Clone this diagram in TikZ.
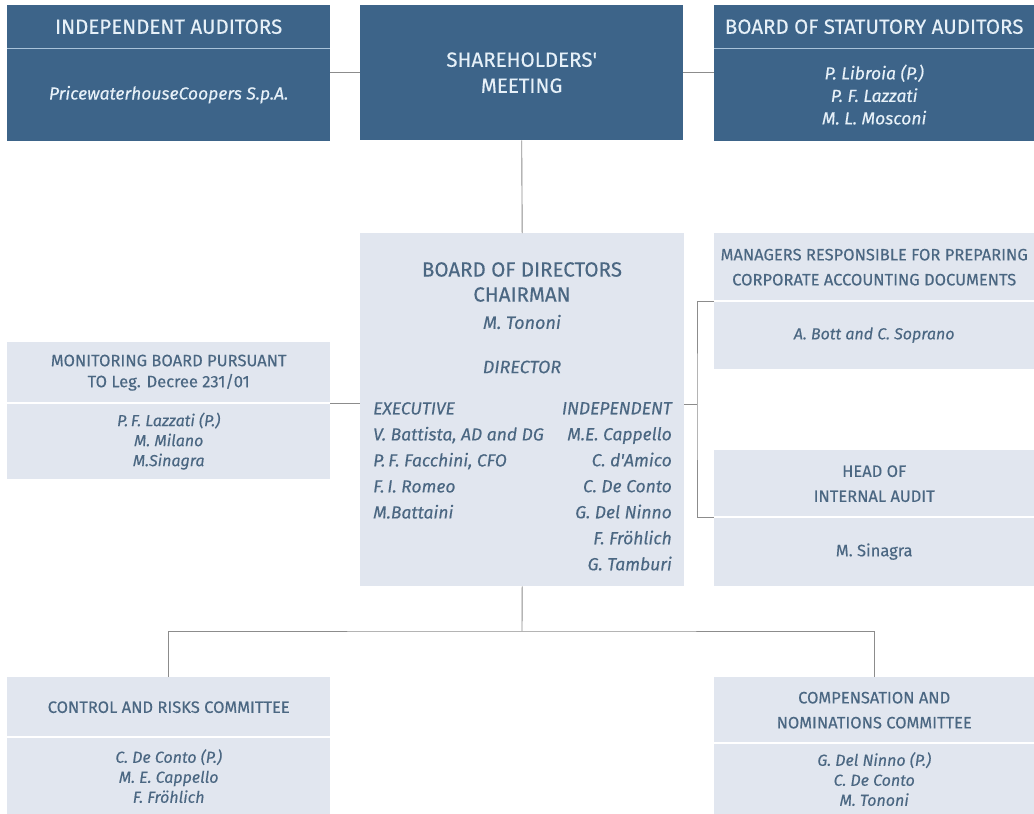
\documentclass[tikz,border=0pt]{standalone}
\usepackage{fontspec}
\setmainfont{Fira Sans}[FakeBold=0.3]
\usetikzlibrary{positioning}

\definecolor{boardblue}{HTML}{3D6489}
\definecolor{headtext}{HTML}{E6F0F8}
\definecolor{panel}{HTML}{E1E6EF}
\definecolor{paneltext}{HTML}{4B6782}
\definecolor{linkgray}{HTML}{8C8C8C}
\definecolor{rulelight}{HTML}{A9C3DA}

\tikzset{
  box/.style={inner sep=0pt,align=center,anchor=north west},
  darkhead/.style={box,fill=boardblue,text=headtext,
    font=\fontsize{20.5}{26}\selectfont},
  darkbody/.style={box,fill=boardblue,text=headtext,
    font=\fontsize{17.5}{22.5}\selectfont\itshape},
  lighthead/.style={box,fill=panel,text=paneltext,
    font=\fontsize{16.5}{21}\selectfont},
  lightbody/.style={box,fill=panel,text=paneltext,
    font=\fontsize{16}{20}\selectfont\itshape},
  link/.style={draw=linkgray,line width=0.9pt},
  darkrule/.style={draw=rulelight,line width=1.5pt},
  lightrule/.style={draw=white,line width=2pt},
  bodtext/.style={inner sep=0pt,text=paneltext}
}

\begin{document}
\begin{tikzpicture}[x=1pt,y=-1pt]
  \useasboundingbox (0,0) rectangle (1034,814);

  % top row
  \node[darkhead,minimum width=323pt,minimum height=43pt] (indhead) at (7,5)
    {INDEPENDENT AUDITORS};
  \node[darkbody,minimum width=323pt,minimum height=92pt,anchor=north] (indbody)
    [below=0pt of indhead] {PricewaterhouseCoopers S.p.A.};
  \node[darkhead,minimum width=323pt,minimum height=135pt] (sharehold) at (360,5)
    {SHAREHOLDERS\textquotesingle\\MEETING};
  \node[darkhead,minimum width=320pt,minimum height=43pt] (stathead) at (714,5)
    {BOARD OF STATUTORY AUDITORS};
  \node[darkbody,minimum width=320pt,minimum height=92pt,anchor=north] (statbody)
    [below=0pt of stathead] {P. Libroia (P.)\\P. F. Lazzati\\M. L. Mosconi};

  % board of directors
  \node[box,fill=panel,minimum width=324pt,minimum height=353pt] (bod) at (360,233) {};
  \node[bodtext,align=center,font=\fontsize{20.5}{25}\selectfont] (bodname) at (522,282)
    {BOARD OF DIRECTORS\\CHAIRMAN};
  \node[bodtext,font=\fontsize{18}{22}\selectfont\itshape] (chair) at (522,322) {M. Tononi};
  \node[bodtext,font=\fontsize{18}{22}\selectfont\itshape] (director) at (522,367) {DIRECTOR};
  \node[bodtext,anchor=north west,align=left,font=\fontsize{17.5}{26}\selectfont\itshape]
    (exec) at (373,402)
    {EXECUTIVE\\V. Battista, AD and DG\\P.\,F. Facchini, CFO\\F.\,I. Romeo\\M.Battaini};
  \node[bodtext,anchor=north east,align=right,font=\fontsize{17.5}{26}\selectfont\itshape]
    (indep) at (672,402)
    {INDEPENDENT\\M.E. Cappello\\C. d\textquotesingle Amico\\C. De Conto\\G. Del Ninno\\F. Fröhlich\\G. Tamburi};

  % side boxes
  \node[lighthead,minimum width=323pt,minimum height=61pt] (monhead) at (7,342)
    {MONITORING BOARD PURSUANT\\TO Leg. Decree 231/01};
  \node[lightbody,minimum width=323pt,minimum height=75pt,anchor=north] (monbody)
    [below=0pt of monhead] {P.\,F. Lazzati (P.)\\M. Milano\\M.Sinagra};
  \node[lighthead,minimum width=320pt,minimum height=68pt] (mgrhead) at (714,233)
    {MANAGERS RESPONSIBLE FOR PREPARING\\[4pt]CORPORATE ACCOUNTING DOCUMENTS};
  \node[lightbody,minimum width=320pt,minimum height=67pt,anchor=north] (mgrbody)
    [below=0pt of mgrhead] {A. Bott and C. Soprano};
  \node[lighthead,minimum width=320pt,minimum height=67pt] (audhead) at (714,450)
    {HEAD OF\\[4pt]INTERNAL AUDIT};
  \node[lighthead,minimum width=320pt,minimum height=68pt,anchor=north] (audbody)
    [below=0pt of audhead] {M. Sinagra};

  % committees
  \node[lighthead,minimum width=323pt,minimum height=60pt] (crchead) at (7,677)
    {CONTROL AND RISKS COMMITTEE};
  \node[lightbody,minimum width=323pt,minimum height=77pt,anchor=north] (crcbody)
    [below=0pt of crchead] {C. De Conto (P.)\\M. E. Cappello\\F. Fröhlich};
  \node[lighthead,minimum width=320pt,minimum height=66pt] (cnchead) at (714,677)
    {COMPENSATION AND\\[4pt]NOMINATIONS COMMITTEE};
  \node[lightbody,minimum width=320pt,minimum height=71pt,anchor=north] (cncbody)
    [below=0pt of cnchead] {G. Del Ninno (P.)\\C. De Conto\\M. Tononi};

  % rules between heading and names
  \draw[darkrule] (indhead.south west) -- (indhead.south east);
  \draw[darkrule] (stathead.south west) -- (stathead.south east);
  \draw[lightrule] (monhead.south west) -- (monhead.south east);
  \draw[lightrule] (mgrhead.south west) -- (mgrhead.south east);
  \draw[lightrule] (audhead.south west) -- (audhead.south east);
  \draw[lightrule] (crchead.south west) -- (crchead.south east);
  \draw[lightrule] (cnchead.south west) -- (cnchead.south east);

  % connectors
  \coordinate (rbus) at (697,404);
  \coordinate (split) at (522,631);
  \draw[link] (sharehold.west) -- (sharehold.west -| indbody.east);
  \draw[link] (sharehold.east) -- (sharehold.east -| statbody.west);
  \draw[link] (sharehold.south) -- (bod.north);
  \draw[link] (monhead.south east) -- (monhead.south east -| bod.west);
  \draw[link] (bod.east |- rbus) -- (rbus);
  \draw[link] (mgrhead.south west) -| (rbus) |- (audhead.south west);
  \draw[link] (bod.south) -- (split);
  \draw[link] (crchead.north) |- (split) -| (cnchead.north);
\end{tikzpicture}
\end{document}
